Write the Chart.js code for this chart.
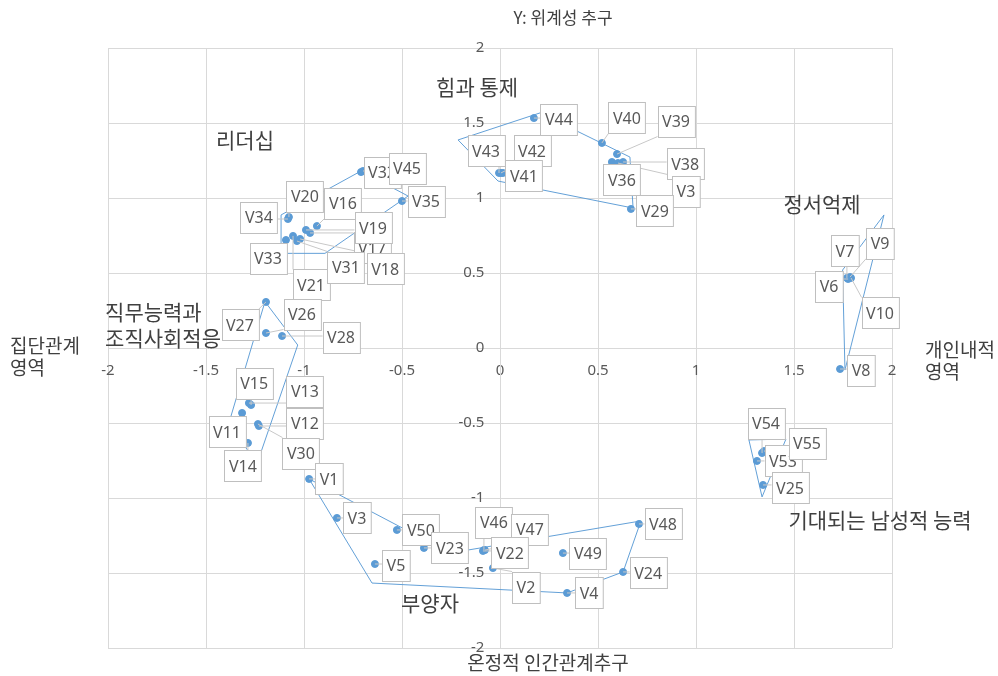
<!DOCTYPE html>
<html>
<head>
<meta charset="utf-8">
<script src="https://cdn.jsdelivr.net/npm/chart.js@4/dist/chart.umd.min.js"></script>
<style>
html,body{margin:0;padding:0;background:#fff;}
canvas{display:block;}
</style>
</head>
<body>
<canvas id="c" width="998" height="676"></canvas>
<script>
// ---- data ----
const pointNames = ['V32','V45','V35','V34','V20','V16','V17','V19','V33','V21','V31','V18',
  'V44','V43','V42','V41','V40','V39','V38','V36','V3','V29',
  'V7','V9','V6','V10','V8',
  'V27','V26','V28','V15','V13','V11','V12','V14','V30',
  'V1','V3','V50','V23','V5','V46','V47','V22','V2','V49','V48','V24','V4',
  'V53','V54','V55','V25'];
const pointX = [-0.709,-0.699,-0.500,-1.082,-1.077,-0.934,-0.969,-0.990,-1.092,-1.056,-1.036,-1.020,
  0.173,-0.005,0.005,0.015,0.520,0.597,0.628,0.571,0.602,0.668,
  1.770,1.786,1.776,1.791,1.735,
  -1.194,-1.194,-1.112,-1.270,-1.281,-1.316,-1.230,-1.286,-1.235,
  -0.974,-0.832,-0.526,-0.388,-0.638,-0.082,-0.077,-0.087,-0.036,0.321,0.709,0.628,0.342,
  1.311,1.337,1.347,1.342];
const pointY = [1.173,1.180,0.980,0.860,0.873,0.813,0.767,0.787,0.720,0.747,0.713,0.727,
  1.533,1.167,1.167,1.167,1.367,1.293,1.240,1.240,1.233,0.927,
  0.467,0.473,0.460,0.467,-0.140,
  0.307,0.100,0.080,-0.380,-0.367,-0.433,-0.520,-0.633,-0.507,
  -0.873,-1.133,-1.213,-1.333,-1.440,-1.347,-1.347,-1.353,-1.467,-1.367,-1.173,-1.493,-1.633,
  -0.753,-0.700,-0.687,-0.913];

// group outlines (polygon vertices, closed)
const hullLeadership = [[-1.117,0.887],[-0.709,1.180],[-0.469,1.013],[-0.893,0.631],[-1.117,0.631],[-1.117,0.887]];
const hullPower      = [[-0.214,1.387],[0.204,1.567],[0.663,1.273],[0.679,0.933],[-0.010,1.113],[-0.214,1.387]];
const hullEmotion    = [[1.959,0.887],[1.748,0.520],[1.760,-0.147],[1.959,0.887]];
const hullJob        = [[-1.199,0.309],[-1.032,0.020],[-1.238,-0.765],[-1.386,-0.513],[-1.199,0.309]];
const hullProvider   = [[-0.974,-0.873],[-0.255,-1.367],[0.719,-1.153],[0.628,-1.493],[0.342,-1.633],[-0.653,-1.567],[-0.974,-0.873]];
const hullMasculine  = [[1.270,-0.613],[1.459,-0.607],[1.337,-0.993],[1.270,-0.613]];

const groupNames = ['리더십','힘과 통제','정서억제','직무능력과\n조직사회적응','기대되는 남성적 능력','부양자'];
const groupX = [-1.301,-0.117,1.643,-2.015,1.939,-0.357];
const groupY = [1.387,1.740,0.960,0.153,-1.147,-1.700];

const tickValues = [-2,-1.5,-1,-0.5,0,0.5,1,1.5,2];
const axisTitles = ['Y: 위계성 추구','온정적 인간관계추구','집단관계\n영역','개인내적\n영역'];

// ---- layout (label box offsets from point, px) ----
const labelDX = [21,44,24,-29,16,26,62,67,-18,18,49,85,
  25,-13,31,21,25,59,62,10,68,24,
  -2,30,-19,29,21,
  -26,36,59,3,56,-15,46,-5,43,
  20,20,24,26,21,10,45,27,33,25,24,25,22,
  26,4,43,27];
const labelDY = [0,-3,0,-2,-21,-23,15,-2,18,49,26,30,
  1,-22,-22,3,-25,-33,2,18,28,2,
  -27,-34,7,35,1,
  23,-19,1,-22,-12,19,-3,23,29,
  0,0,0,0,1,-28,-21,2,19,0,0,1,0,
  0,-30,-8,3];
const groupAlign = ['center','center','center','left','center','center'];

const BLUE = '#5b9bd5';
const KFONT = '"Noto Sans CJK KR", "Noto Sans", sans-serif';
const LFONT = '"Noto Sans", "Noto Sans CJK KR", sans-serif';

const labelPlugin = {
  id: 'vlabels',
  afterDatasetsDraw(chart) {
    const ctx = chart.ctx, xs = chart.scales.x, ys = chart.scales.y;
    ctx.save();
    ctx.font = '16px ' + LFONT;
    const boxes = pointNames.map((n, i) => {
      const px = xs.getPixelForValue(pointX[i]);
      const py = ys.getPixelForValue(pointY[i]);
      const w = ctx.measureText(n).width + 9, h = 31;
      const cx = px + labelDX[i], cy = py + labelDY[i];
      return {n, px, py, cx, cy, w, h};
    });
    // leader lines
    ctx.strokeStyle = '#c8c8c8';
    ctx.lineWidth = 1;
    boxes.forEach(b => {
      const l = b.cx - b.w / 2, r = b.cx + b.w / 2, t = b.cy - b.h / 2, bt = b.cy + b.h / 2;
      const nx = Math.min(Math.max(b.px, l), r), ny = Math.min(Math.max(b.py, t), bt);
      const d = Math.hypot(nx - b.px, ny - b.py);
      if (d > 5) {
        ctx.beginPath();
        ctx.moveTo(b.px, b.py);
        ctx.lineTo(nx, ny);
        ctx.stroke();
      }
    });
    // boxes and text
    ctx.textAlign = 'center';
    ctx.textBaseline = 'middle';
    boxes.forEach(b => {
      const l = Math.round(b.cx - b.w / 2) + 0.5, t = Math.round(b.cy - b.h / 2) + 0.5;
      ctx.fillStyle = '#ffffff';
      ctx.fillRect(l, t, b.w, b.h);
      ctx.strokeStyle = '#bfbfbf';
      ctx.strokeRect(l, t, b.w, b.h);
      ctx.fillStyle = '#595959';
      ctx.fillText(b.n, b.cx, b.cy + 1);
    });
    // group labels
    ctx.font = '21px ' + KFONT;
    ctx.fillStyle = '#404040';
    groupNames.forEach((g, i) => {
      const lines = g.split('\n');
      const x = xs.getPixelForValue(groupX[i]);
      const y = ys.getPixelForValue(groupY[i]);
      ctx.textAlign = groupAlign[i];
      const lh = 26;
      lines.forEach((ln, k) => {
        ctx.fillText(ln, x, y + (k - (lines.length - 1) / 2) * lh);
      });
    });
    // axis titles
    const ca = chart.chartArea;
    ctx.fillStyle = '#404040';
    ctx.font = '17px ' + KFONT;
    ctx.textAlign = 'center';
    ctx.fillText(axisTitles[0], 563, ca.top - 30);
    ctx.font = '19px ' + KFONT;
    ctx.fillText(axisTitles[1], 548, ca.bottom + 15);
    ctx.textAlign = 'left';
    axisTitles[2].split('\n').forEach((ln, k) => ctx.fillText(ln, 10, 346 + k * 22));
    axisTitles[3].split('\n').forEach((ln, k) => ctx.fillText(ln, 925, 350 + k * 22));
    ctx.restore();
  }
};

const hulls = [hullLeadership, hullPower, hullEmotion, hullJob, hullProvider, hullMasculine];
const datasets = hulls.map(h => ({
  data: h.map(([x, y]) => ({x, y})),
  showLine: true,
  borderColor: 'rgba(91,155,213,0.95)',
  borderWidth: 1,
  pointRadius: 0,
  fill: false,
  tension: 0
}));
datasets.push({
  data: pointX.map((x, i) => ({x, y: pointY[i]})),
  pointRadius: 3.5,
  pointBackgroundColor: BLUE,
  pointBorderColor: BLUE,
  pointBorderWidth: 1,
  showLine: false
});

const axisCommon = {
  type: 'linear', min: -2, max: 2,
  grid: {color: '#d9d9d9', drawTicks: false, lineWidth: 1},
  border: {color: '#d9d9d9'},
  afterBuildTicks: (s) => { s.ticks = tickValues.map(v => ({value: v})); }
};

new Chart(document.getElementById('c'), {
  type: 'scatter',
  data: {datasets},
  options: {
    responsive: false,
    animation: false,
    devicePixelRatio: 1,
    layout: {padding: {left: 108, right: 106, top: 48, bottom: 28}},
    plugins: {legend: {display: false}, tooltip: {enabled: false}},
    scales: {
      x: Object.assign({}, axisCommon, {
        position: {y: 0},
        ticks: {padding: 14, color: '#595959', font: {size: 15, family: LFONT}, callback: v => String(v)}
      }),
      y: Object.assign({}, axisCommon, {
        position: {x: 0},
        ticks: {color: '#595959', font: {size: 15, family: LFONT}, callback: v => String(v) + '    '}
      })
    }
  },
  plugins: [labelPlugin]
});
</script>
</body>
</html>
